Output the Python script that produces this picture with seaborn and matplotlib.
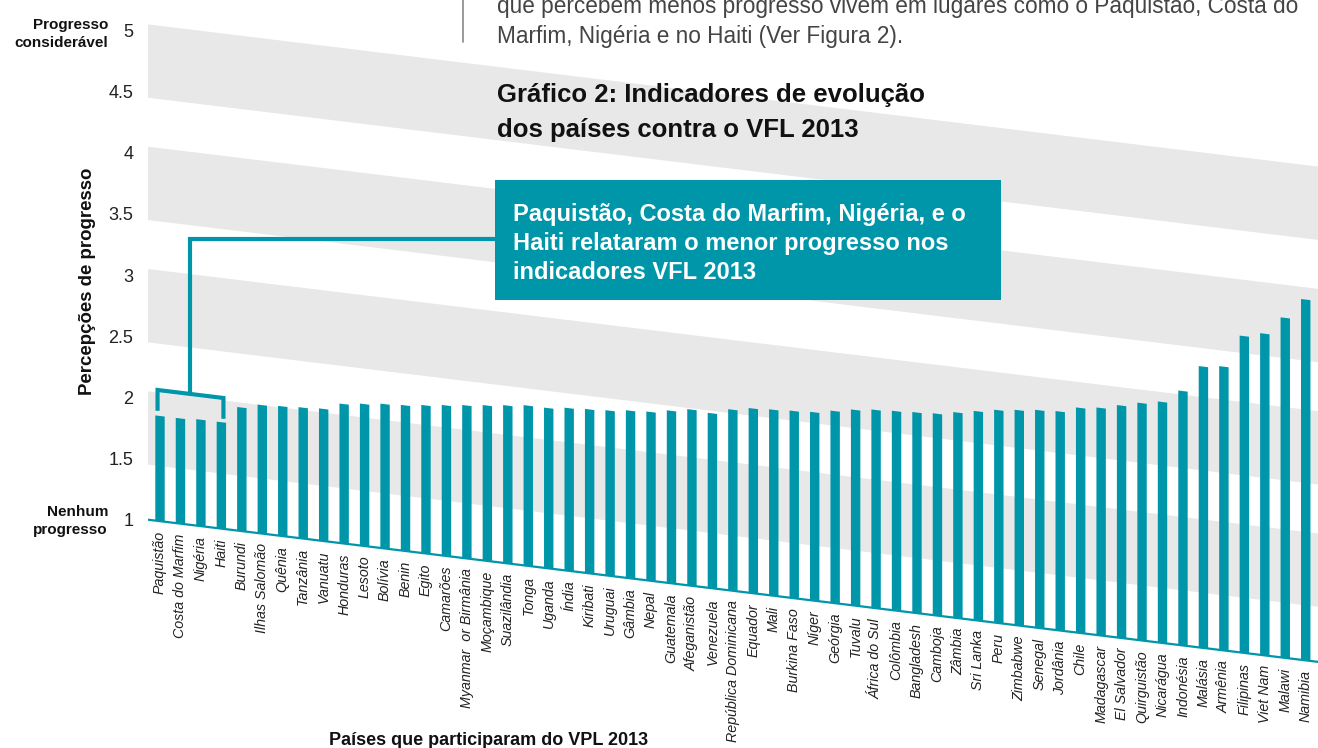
import numpy as np
import matplotlib
matplotlib.use("Agg")
import matplotlib.pyplot as plt
import matplotlib.patches as mpatches
import matplotlib.transforms as mtransforms
from matplotlib.lines import Line2D
import seaborn as sns

# ---------------- data ----------------
countries = [
    "Paquistão", "Costa do Marfim", "Nigéria", "Haiti", "Burundi",
    "Ilhas Salomão", "Quênia", "Tanzânia", "Vanuatu", "Honduras",
    "Lesoto", "Bolívia", "Benin", "Egito", "Camarões",
    "Myanmar  or Birmânia", "Moçambique", "Suazilândia", "Tonga", "Uganda",
    "Índia", "Kiribati", "Uruguai", "Gâmbia", "Nepal",
    "Guatemala", "Afeganistão", "Venezuela", "República Dominicana", "Equador",
    "Mali", "Burkina Faso", "Níger", "Geórgia", "Tuvalu",
    "África do Sul", "Colômbia", "Bangladesh", "Camboja", "Zâmbia",
    "Sri Lanka", "Peru", "Zimbabwe", "Senegal", "Jordânia",
    "Chile", "Madagascar", "El Salvador", "Quirguistão", "Nicarágua",
    "Indonésia", "Malásia", "Armênia", "Filipinas", "Viet Nam",
    "Malawi", "Namibia",
]
progress = [
    1.86, 1.86, 1.87, 1.87, 2.01,
    2.05, 2.06, 2.07, 2.08, 2.14,
    2.16, 2.18, 2.19, 2.21, 2.23,
    2.25, 2.27, 2.29, 2.31, 2.31,
    2.33, 2.34, 2.35, 2.37, 2.38,
    2.41, 2.44, 2.43, 2.48, 2.51,
    2.52, 2.53, 2.54, 2.57, 2.60,
    2.62, 2.63, 2.64, 2.65, 2.68,
    2.71, 2.74, 2.76, 2.78, 2.79,
    2.84, 2.86, 2.90, 2.94, 2.97,
    3.08, 3.30, 3.32, 3.59, 3.63,
    3.78, 3.95,
]
y_ticks = [1, 1.5, 2, 2.5, 3, 3.5, 4, 4.5, 5]
y_tick_labels = ["1", "1.5", "2", "2.5", "3", "3.5", "4", "4.5", "5"]
band_low = [1.45, 2.45, 3.45, 4.45]
band_high = [2.05, 3.05, 4.05, 5.05]
bracket_x = [-0.12, -0.12, 3.10, 3.10]
bracket_y = [1.90, 2.07, 2.07, 1.90]

title_lines = ["Gráfico 2: Indicadores de evolução", "dos países contra o VFL 2013"]
intro_lines = ["que percebem menos progresso vivem em lugares como o Paquistão, Costa do",
               "Marfim, Nigéria e no Haiti (Ver Figura 2)."]
note_lines = ["Paquistão, Costa do Marfim, Nigéria, e o",
              "Haiti relataram o menor progresso nos",
              "indicadores VFL 2013"]

# ---------------- style ----------------
TEAL = "#0096AA"
BAND = "#E8E8E8"
W, H = 1318, 748
SLOPE = 0.1215          # downward drift of the floor per pixel to the right
AX_LEFT = 148

sns.set_theme(style="white")
plt.rcParams["font.family"] = ["Liberation Sans", "DejaVu Sans"]

fig = plt.figure(figsize=(W / 100, H / 100), dpi=100)
ax = fig.add_axes([AX_LEFT / W, 0, (W - AX_LEFT) / W, 1])
ax.set_facecolor("none")

def fx(x):
    return x / W

def fy(y):
    return 1 - y / H

sns.barplot(x=countries, y=progress, order=countries, color=TEAL,
            saturation=1, width=0.46, linewidth=0, ax=ax, zorder=2)

ax.set_xlim(-0.5865, 56.6)
ax.set_ylim(-0.8667, 5.2494)

# shear in display space: everything in the plot drifts down to the right
shear = mtransforms.Affine2D(np.array([[1.0, 0.0, 0.0],
                                        [-SLOPE, 1.0, SLOPE * AX_LEFT],
                                        [0.0, 0.0, 1.0]]))
sheared = ax.transData + shear

floor = mpatches.Polygon([(-2, 1), (60, 1), (60, 9), (-2, 9)], closed=True,
                         transform=sheared)
for bar in list(ax.patches):
    bar.set_transform(sheared)
    bar.set_clip_path(floor)

for lo, hi in zip(band_low, band_high):
    r = ax.axhspan(lo, hi, color=BAND, lw=0, zorder=0)
    r.set_transform(ax.get_yaxis_transform() + shear)

base = ax.axhline(1, color=TEAL, lw=1.6, zorder=3)
base.set_transform(ax.get_yaxis_transform() + shear)

# axes cosmetics
sns.despine(ax=ax, left=True, bottom=True)
ax.set_xticks([])
ax.set_xlabel("")
ax.set_ylabel("")
ax.set_yticks(y_ticks)
ax.set_yticklabels(y_tick_labels)
ax.tick_params(axis="y", length=0, pad=10.6, labelsize=13, labelcolor="#222222")
ax.grid(False)

# country labels following the slanted floor
for i, name in enumerate(countries):
    ax.text(i, 0.92, name, transform=sheared, rotation=90, ha="center", va="top",
            fontsize=10.3, fontstyle="italic", color="#222222", clip_on=False)

# bracket on the four lowest
ax.plot(bracket_x, bracket_y, color=TEAL, lw=3, transform=sheared,
        solid_joinstyle="miter", solid_capstyle="butt", clip_on=False, zorder=5)

# connector from bracket to the note box
top_disp = sheared.transform((1.49, bracket_y[1]))
cx, cy = top_disp[0], H - top_disp[1]
fig.add_artist(Line2D([fx(495), fx(cx), fx(cx)], [fy(238.5), fy(238.5), fy(cy)],
                      transform=fig.transFigure, color=TEAL, lw=3,
                      solid_joinstyle="miter", solid_capstyle="butt", zorder=5))

# note box
fig.add_artist(mpatches.Rectangle((fx(495), fy(300)), 506 / W, 120 / H,
                                  transform=fig.transFigure, color=TEAL, lw=0, zorder=6))
for line, yb in zip(note_lines, [221, 250, 279]):
    fig.text(fx(513), fy(yb), line, color="white", fontsize=17, fontweight="bold",
             ha="left", va="baseline", zorder=7)

# title and intro text
for line, yb in zip(title_lines, [102, 137]):
    fig.text(fx(497), fy(yb), line, color="#111111", fontsize=18.5, fontweight="bold",
             ha="left", va="baseline")
for line, yb in zip(intro_lines, [13, 43]):
    fig.text(fx(497), fy(yb), line, color="#444444", fontsize=16.3,
             ha="left", va="baseline")
fig.add_artist(Line2D([fx(463), fx(463)], [fy(0), fy(42)], transform=fig.transFigure,
                      color="#888888", lw=1.2))

# scale end labels and axis titles
fig.text(fx(108), fy(29), "Progresso", fontsize=11, fontweight="bold", color="#111111",
         ha="right", va="baseline")
fig.text(fx(108), fy(47), "considerável", fontsize=11, fontweight="bold", color="#111111",
         ha="right", va="baseline")
fig.text(fx(108), fy(516), "Nenhum", fontsize=11, fontweight="bold", color="#111111",
         ha="right", va="baseline")
fig.text(fx(108), fy(534), "progresso", fontsize=11, fontweight="bold", color="#111111",
         ha="right", va="baseline")
fig.text(fx(87.5), fy(281.5), "Percepções de progresso", rotation=90, fontsize=13.4,
         fontweight="bold", color="#111111", ha="center", va="center")
fig.text(fx(489), fy(745), "Países que participaram do VPL 2013", fontsize=13,
         fontweight="bold", color="#111111", ha="center", va="baseline")

fig.savefig("out.png", dpi=100)
